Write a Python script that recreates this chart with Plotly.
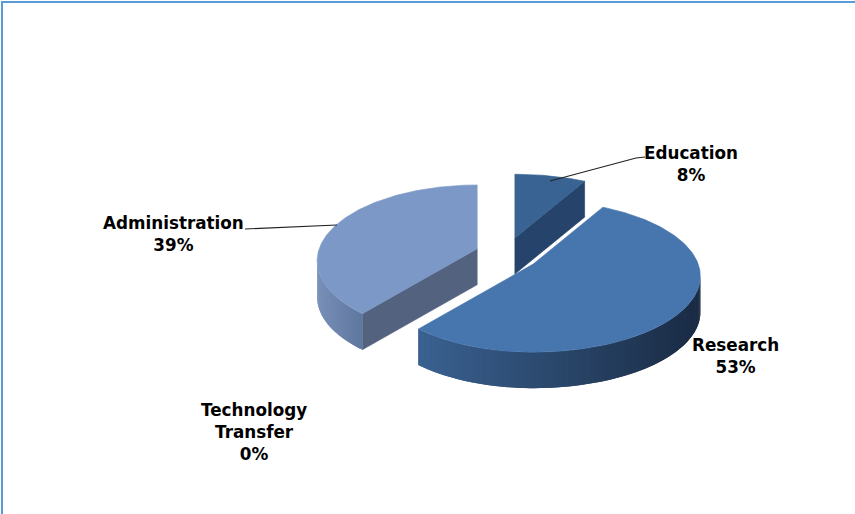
import math
import plotly.graph_objects as go

categories = ["Education", "Research", "Administration", "Technology<br>Transfer"]
values = [8, 53, 39, 0]
top_colors = ["#386392", "#4775AE", "#7C98C6", "#7C98C6"]
cut_colors = ["#26436B", "#26436B", "#53637F", "#53637F"]
side_left = ["#2F5078", "#3A6291", "#7990B8", "#7990B8"]
side_right = ["#26436B", "#1A2B44", "#5F78A0", "#5F78A0"]
label_xy = [(691, 164), (735, 355.5), (173, 233.5), (254, 431.5)]
leaders = [[(645, 157), (636, 158), (550, 181)], [(245, 229), (337, 225)]]

CX, CY = 507, 254.5
EX, EY = 31.7, 17
A_RIGHT, A_LEFT, B, K = 165, 158, 74, 0.16
DEPTH = 36
FONT = "DejaVu Sans"
BORDER = "#5B9BD5"


def rim(ox, oy, th):
    u, v = math.sin(th), math.cos(th)
    f = 1 / (1 + K * v)
    a = A_RIGHT if u >= 0 else A_LEFT
    return ox + a * u * f, oy - B * v * f


def mix(c1, c2, t):
    a = [int(c1[i:i + 2], 16) for i in (1, 3, 5)]
    b = [int(c2[i:i + 2], 16) for i in (1, 3, 5)]
    return "rgb(%d,%d,%d)" % tuple(round(p + (q - p) * t) for p, q in zip(a, b))


def poly(fig, pts, color, width=0.6):
    xs = [p[0] for p in pts] + [pts[0][0]]
    ys = [p[1] for p in pts] + [pts[0][1]]
    fig.add_trace(go.Scatter(x=xs, y=ys, mode="lines", fill="toself", fillcolor=color,
                             line=dict(color=color, width=width), hoverinfo="skip", showlegend=False))


fig = go.Figure()
total = sum(values)
slices = []
start = 0.0
for i, val in enumerate(values):
    end = start + 2 * math.pi * val / total
    slices.append((i, start, end))
    start = end

for i, s, e in [slices[2], slices[0], slices[1]]:
    mid = (s + e) / 2
    ox = CX + EX * math.sin(mid)
    oy = CY - EY * math.cos(mid)
    n = max(12, int((e - s) * 60))
    ths = [s + (e - s) * j / n for j in range(n + 1)]
    arc = [rim(ox, oy, t) for t in ths]
    edge = e if i == 0 else s if i == 2 else None
    if edge is not None:
        p = rim(ox, oy, edge)
        poly(fig, [(ox, oy), p, (p[0], p[1] + DEPTH), (ox, oy + DEPTH)], cut_colors[i])
    vis = [j for j in range(n + 1) if math.cos(ths[j]) < -K]
    if vis:
        xa = [arc[j][0] for j in vis]
        x0, x1 = min(xa), max(xa)
        # strips painted with overlap so that no seams show through
        for idx in range(len(vis) - 1):
            j = vis[idx]
            j2 = vis[min(idx + 2, len(vis) - 1)]
            t = (arc[j][0] - x0) / max(x1 - x0, 1)
            c = mix(side_left[i], side_right[i], t)
            pts_top = arc[j:j2 + 1]
            poly(fig, pts_top + [(q[0], q[1] + DEPTH) for q in reversed(pts_top)], c, width=0)
    poly(fig, [(ox, oy)] + arc, top_colors[i])

for pts in leaders:
    fig.add_trace(go.Scatter(x=[p[0] for p in pts], y=[p[1] for p in pts], mode="lines",
                             line=dict(color="#222222", width=1.2), hoverinfo="skip", showlegend=False))

for name, val, (lx, ly) in zip(categories, values, label_xy):
    fig.add_annotation(x=lx, y=ly, xref="x", yref="y", showarrow=False, align="center",
                       text="<b>%s<br>%d%%</b>" % (name, val),
                       font=dict(family=FONT, size=16.8, color="#000000"))

fig.update_layout(
    width=855, height=514, margin=dict(l=0, r=0, t=0, b=0),
    paper_bgcolor="white", plot_bgcolor="white", showlegend=False,
    xaxis=dict(range=[0, 855], visible=False, fixedrange=True),
    yaxis=dict(range=[514, 0], visible=False, fixedrange=True),
    shapes=[
        dict(type="line", xref="x", yref="y", x0=2, x1=2, y0=2, y1=514, line=dict(color=BORDER, width=2)),
        dict(type="line", xref="x", yref="y", x0=1, x1=855, y0=2, y1=2, line=dict(color=BORDER, width=2)),
    ],
)
fig.write_html("out.html", config={"displayModeBar": False},
               post_script="document.body.style.margin='0';document.body.style.overflow='hidden';")
